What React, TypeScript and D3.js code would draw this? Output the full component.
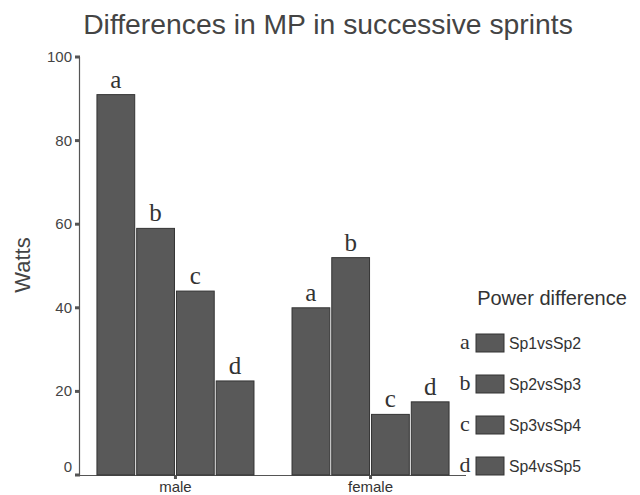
import React from "react";
import * as d3 from "d3";

const groups = ["male", "female"];
const series = ["Sp1vsSp2", "Sp2vsSp3", "Sp3vsSp4", "Sp4vsSp5"];
const letters = ["a", "b", "c", "d"];
const maleValues = [91, 59, 44, 22.5];
const femaleValues = [40, 52, 14.5, 17.5];
const yTicks = [0, 20, 40, 60, 80, 100];

const W = 640;
const H = 495;

export default function App() {
  const values: Record<string, number[]> = { male: maleValues, female: femaleValues };
  const y = d3.scaleLinear().domain([0, 100]).range([475, 57]);
  const x0 = d3
    .scaleBand<string>()
    .domain(groups)
    .range([79, 467])
    .paddingInner(0.195)
    .paddingOuter(0.092);
  const x1 = d3
    .scaleBand<string>()
    .domain(series)
    .range([0, x0.bandwidth()])
    .paddingInner(0.05);

  const sans = "Liberation Sans, Arial, sans-serif";
  const serif = "Liberation Serif, Times New Roman, serif";
  const barFill = "#595959";
  const barStroke = "#333";

  return (
    <svg width={W} height={H} style={{ position: "absolute", left: 0, top: 0, background: "#fff" }}>
      <rect x={0} y={0} width={W} height={H} fill="#fff" />
      <text x={328} y={34} textAnchor="middle" fontFamily={sans} fontSize={28.3} fill="#444">
        Differences in MP in successive sprints
      </text>
      <text
        transform={`translate(30,${265}) rotate(-90)`}
        textAnchor="middle"
        fontFamily={sans}
        fontSize={22}
        fill="#444"
      >
        Watts
      </text>
      {/* y axis */}
      <line x1={79.5} x2={79.5} y1={y(100)} y2={y(0)} stroke="#555" strokeWidth={1.2} />
      {yTicks.map((t) => (
        <g key={t}>
          <rect x={75} y={y(t) - 1.5} width={5} height={3} fill="#555" />
          <text
            x={72}
            y={t === 0 ? y(t) - 3 : y(t) + 5}
            textAnchor="end"
            fontFamily={sans}
            fontSize={15}
            fill="#444"
          >
            {t}
          </text>
        </g>
      ))}
      {/* baseline */}
      <line x1={79} x2={466} y1={475.5} y2={475.5} stroke="#555" strokeWidth={1.2} />
      {groups.map((g) => {
        const gx = x0(g)!;
        const cx = gx + x0.bandwidth() / 2;
        return (
          <g key={g}>
            <rect x={cx - 1.5} y={475} width={3} height={4} fill="#555" />
            <text x={cx} y={492} textAnchor="middle" fontFamily={sans} fontSize={15} fill="#333">
              {g}
            </text>
            {series.map((s, i) => {
              const v = values[g][i];
              const bx = gx + x1(s)!;
              return (
                <g key={s}>
                  <rect
                    x={bx}
                    y={y(v)}
                    width={x1.bandwidth()}
                    height={y(0) - y(v)}
                    fill={barFill}
                    stroke={barStroke}
                    strokeWidth={1}
                  />
                  <text
                    x={bx + x1.bandwidth() / 2}
                    y={y(v) - 7}
                    textAnchor="middle"
                    fontFamily={serif}
                    fontSize={25}
                    fill="#333"
                  >
                    {letters[i]}
                  </text>
                </g>
              );
            })}
          </g>
        );
      })}
      {/* legend */}
      <text x={552} y={305} textAnchor="middle" fontFamily={sans} fontSize={20} fill="#333">
        Power difference
      </text>
      {series.map((s, i) => {
        const ly = 334 + i * 41;
        return (
          <g key={s}>
            <text x={465} y={ly + 15} textAnchor="middle" fontFamily={serif} fontSize={22} fill="#333">
              {letters[i]}
            </text>
            <rect x={476} y={ly} width={28} height={18} fill={barFill} stroke={barStroke} strokeWidth={1} />
            <text x={509} y={ly + 15} fontFamily={sans} fontSize={15.8} fill="#333">
              {s}
            </text>
          </g>
        );
      })}
    </svg>
  );
}
